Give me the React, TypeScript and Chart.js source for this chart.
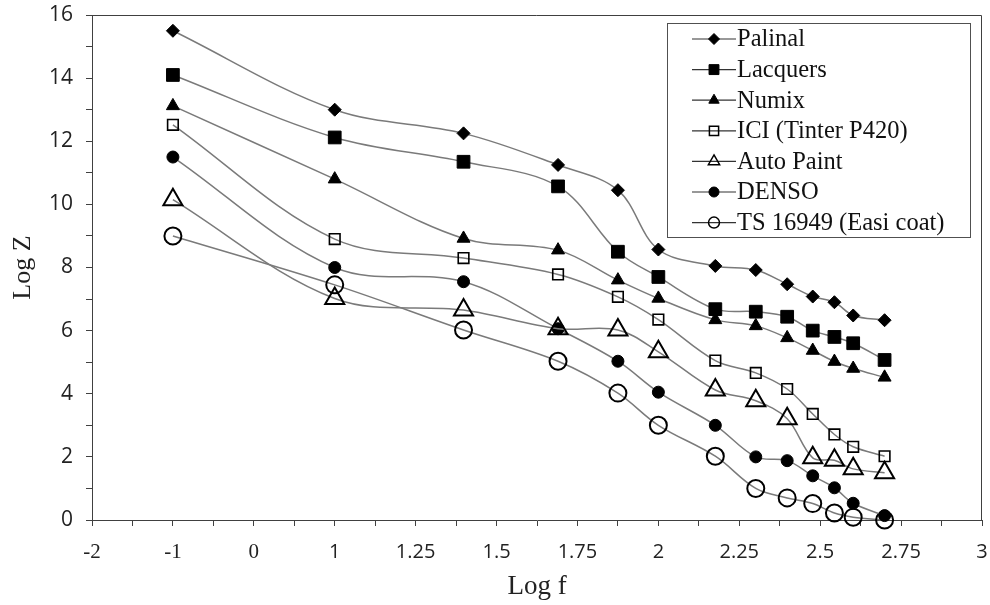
import React, { useEffect, useRef } from 'react';
import { Chart, registerables } from 'chart.js';

Chart.register(...registerables);

// log f values (frequencies 0.1, 10, 25, 49, 75, 100, 150, 200, 250, 300, 350, 400, 500 Hz)
const logF = [-1, 1, 1.398, 1.69, 1.875, 2, 2.176, 2.301, 2.398, 2.477, 2.544, 2.602, 2.699];
const xTickLabels = ['-2', '-1', '0', '1', '1.25', '1.5', '1.75', '2', '2.25', '2.5', '2.75', '3'];

const seriesNames = [
  'Palinal',
  'Lacquers',
  'Numix',
  'ICI (Tinter P420)',
  'Auto Paint',
  'DENSO',
  'TS 16949 (Easi coat)',
];

const palinal = [15.5, 13.0, 12.25, 11.25, 10.45, 8.57, 8.05, 7.92, 7.47, 7.08, 6.9, 6.48, 6.33];
const lacquers = [14.1, 12.12, 11.35, 10.57, 8.5, 7.7, 6.68, 6.6, 6.44, 6.0, 5.8, 5.6, 5.07];
const numix = [13.12, 10.8, 8.92, 8.55, 7.6, 7.02, 6.34, 6.15, 5.77, 5.37, 5.02, 4.8, 4.52];
const ici = [12.52, 8.9, 8.3, 7.78, 7.07, 6.35, 5.05, 4.66, 4.15, 3.36, 2.71, 2.32, 2.02];
const autoPaint = [10.15, 7.02, 6.65, 6.06, 6.02, 5.33, 4.12, 3.78, 3.21, 1.97, 1.89, 1.62, 1.5];
const denso = [11.5, 8.0, 7.55, 6.06, 5.03, 4.05, 3.0, 2.0, 1.88, 1.4, 1.02, 0.53, 0.14];
const tsEasi = [9.0, 7.45, 6.02, 5.03, 4.02, 3.0, 2.02, 1.0, 0.7, 0.52, 0.22, 0.09, 0.0];

const seriesValues = [palinal, lacquers, numix, ici, autoPaint, denso, tsEasi];

type MarkerSpec = { style: string; filled: boolean; radius: number; legendRadius: number; width: number };
const markers: MarkerSpec[] = [
  { style: 'rectRot', filled: true, radius: 6.5, legendRadius: 5.5, width: 1 },
  { style: 'rect', filled: true, radius: 9, legendRadius: 7, width: 1 },
  { style: 'triangle', filled: true, radius: 7.5, legendRadius: 6, width: 1 },
  { style: 'rect', filled: false, radius: 7.5, legendRadius: 6.5, width: 1.6 },
  { style: 'triangle', filled: false, radius: 11, legendRadius: 6.5, width: 2 },
  { style: 'circle', filled: true, radius: 6, legendRadius: 5, width: 1 },
  { style: 'circle', filled: false, radius: 8.5, legendRadius: 5.5, width: 2 },
];

const SERIF = '"Liberation Serif", "Times New Roman", serif';
const SANS = '"Open Sans", "Liberation Sans", sans-serif';
const AXIS = '#404040';
const LINE = '#7a7a7a';

// axis is piecewise: one tick per unit from -2..1, then one tick per 0.25 from 1..3
function axisPos(v: number): number {
  return v <= 1 ? v + 2 : 3 + (v - 1) * 4;
}

function drawMarker(ctx: CanvasRenderingContext2D, m: MarkerSpec, x: number, y: number, r: number) {
  ctx.save();
  ctx.beginPath();
  if (m.style === 'circle') {
    ctx.arc(x, y, r, 0, Math.PI * 2);
  } else if (m.style === 'rect') {
    const h = r * Math.SQRT1_2;
    ctx.rect(x - h, y - h, 2 * h, 2 * h);
  } else if (m.style === 'rectRot') {
    ctx.moveTo(x, y - r);
    ctx.lineTo(x + r, y);
    ctx.lineTo(x, y + r);
    ctx.lineTo(x - r, y);
    ctx.closePath();
  } else if (m.style === 'triangle') {
    const a = (2 * Math.PI) / 3;
    ctx.moveTo(x, y - r);
    ctx.lineTo(x + Math.sin(a) * r, y - Math.cos(a) * r);
    ctx.lineTo(x + Math.sin(2 * a) * r, y - Math.cos(2 * a) * r);
    ctx.closePath();
  }
  ctx.lineWidth = m.filled ? 1 : 1.5;
  ctx.strokeStyle = '#000';
  if (m.filled) {
    ctx.fillStyle = '#000';
    ctx.fill();
  }
  ctx.stroke();
  ctx.restore();
}

const framePlugin = {
  id: 'frameAndLegend',
  afterDraw(chart: any) {
    const { ctx, chartArea: a } = chart;
    ctx.save();
    ctx.strokeStyle = AXIS;
    ctx.lineWidth = 1;
    ctx.beginPath();
    ctx.moveTo(a.left, Math.round(a.top) + 0.5);
    ctx.lineTo(Math.round(a.right) - 0.5, Math.round(a.top) + 0.5);
    ctx.lineTo(Math.round(a.right) - 0.5, a.bottom);
    ctx.stroke();

    // legend box
    const bx = 667.5, by = 23.5, bw = 303, bh = 214;
    ctx.fillStyle = '#fff';
    ctx.fillRect(bx, by, bw, bh);
    ctx.strokeStyle = '#505050';
    ctx.strokeRect(bx, by, bw, bh);

    ctx.font = `24.5px ${SERIF}`;
    ctx.textBaseline = 'middle';
    ctx.textAlign = 'left';
    seriesNames.forEach((name, i) => {
      const y = 39 + i * 30.6;
      ctx.strokeStyle = '#333';
      ctx.lineWidth = 1.2;
      ctx.beginPath();
      ctx.moveTo(692, y);
      ctx.lineTo(736, y);
      ctx.stroke();
      drawMarker(ctx, markers[i], 714, y, markers[i].legendRadius);
      ctx.fillStyle = '#111';
      ctx.fillText(name, 737, y + 1);
    });
    ctx.restore();
  },
};

export default function App() {
  const canvasRef = useRef<HTMLCanvasElement | null>(null);

  useEffect(() => {
    const canvas = canvasRef.current;
    if (!canvas) return;

    const datasets = seriesNames.map((name, i) => {
      const m = markers[i];
      return {
        label: name,
        data: logF.map((f, j) => ({ x: axisPos(f), y: seriesValues[i][j] })),
        borderColor: LINE,
        borderWidth: 1.5,
        tension: 0.35,
        fill: false,
        clip: false,
        pointStyle: m.style,
        pointRadius: m.radius,
        pointBorderWidth: m.width,
        pointBorderColor: '#000',
        pointBackgroundColor: m.filled ? '#000' : 'rgba(0,0,0,0)',
        order: i,
      };
    });

    const chart = new Chart(canvas, {
      type: 'line',
      data: { datasets } as any,
      options: {
        responsive: false,
        animation: false,
        events: [],
        layout: { autoPadding: false, padding: { top: 15, right: 8, left: 0, bottom: 0 } },
        plugins: {
          legend: { display: false },
          tooltip: { enabled: false },
        },
        scales: {
          x: {
            type: 'linear',
            min: 0,
            max: 11,
            afterFit: (scale: any) => {
              scale.height = 85;
              scale.paddingLeft = 0;
              scale.paddingRight = 0;
              scale.paddingTop = 0;
              scale.paddingBottom = 0;
            },
            grid: {
              drawOnChartArea: false,
              drawTicks: true,
              tickLength: 6,
              color: AXIS,
            },
            border: { color: AXIS, width: 1 },
            ticks: {
              stepSize: 0.5,
              autoSkip: false,
              maxRotation: 0,
              padding: 14,
              color: '#222',
              font: (c: any) => {
                const v = c.tick ? c.tick.value : 5;
                return v < 2.5 ? { family: SERIF, size: 21 } : { family: SANS, size: 20 };
              },
              callback: (v: any) => {
                const n = Number(v);
                return Number.isInteger(n) ? xTickLabels[n] : '';
              },
            },
            title: {
              display: true,
              text: 'Log f',
              color: '#222',
              font: { family: SERIF, size: 27 },
              padding: { top: 0, bottom: 2 },
            },
          },
          y: {
            type: 'linear',
            min: 0,
            max: 16,
            afterFit: (scale: any) => {
              scale.width = 92;
              scale.paddingLeft = 0;
              scale.paddingRight = 0;
              scale.paddingTop = 0;
              scale.paddingBottom = 0;
            },
            grid: {
              drawOnChartArea: false,
              drawTicks: true,
              tickLength: 6,
              color: AXIS,
            },
            border: { color: AXIS, width: 1 },
            ticks: {
              stepSize: 1,
              autoSkip: false,
              padding: 13,
              color: '#222',
              font: { family: SANS, size: 21 },
              callback: (v: any) => (Number(v) % 2 === 0 ? String(v) : ''),
            },
            title: {
              display: true,
              text: 'Log Z',
              color: '#222',
              font: { family: SERIF, size: 26 },
              padding: { top: 8, bottom: 0 },
            },
          },
        },
      } as any,
      plugins: [framePlugin],
    });

    return () => {
      chart.destroy();
    };
  }, []);

  return (
    <div style={{ position: 'absolute', left: 0, top: 0, width: 990, height: 605, background: '#fff' }}>
      <canvas ref={canvasRef} width={990} height={605} style={{ display: 'block', width: 990, height: 605 }} />
    </div>
  );
}
